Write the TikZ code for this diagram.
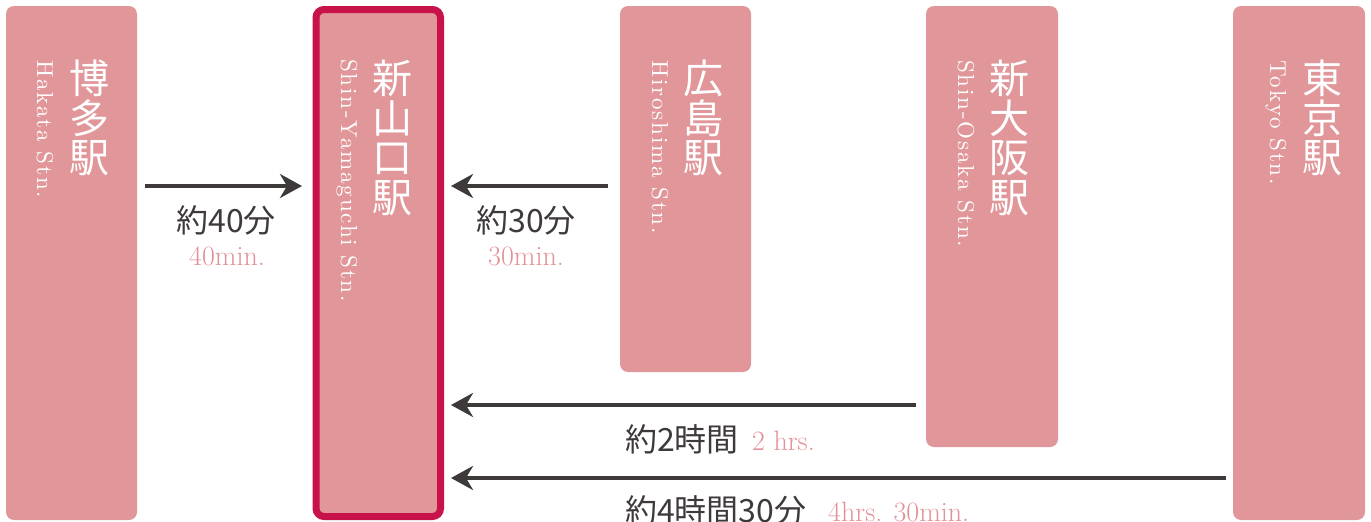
\documentclass[tikz,border=0pt]{standalone}
\usepackage{fontspec}
\usepackage{tikz}
\usetikzlibrary{arrows.meta}
\newfontfamily\jpfont{Noto Sans CJK JP}
\newfontfamily\stnfont[LetterSpace=8]{lmroman10-regular.otf}
\definecolor{stnPink}{RGB}{225,151,154}
\definecolor{stnCrimson}{RGB}{200,18,74}
\definecolor{arrGray}{RGB}{62,58,57}
\definecolor{minPink}{RGB}{226,145,150}
\tikzstyle{stnBox} = [fill=stnPink, rounded corners=8pt, inner sep=0pt, outer sep=0pt,
   anchor=north west, minimum width=131pt]
\tikzstyle{mainBox} = [stnBox, draw=stnCrimson, line width=7pt]
\tikzstyle{jpName} = [text=white, font=\jpfont\fontsize{40}{39.5}\selectfont,
   align=center, anchor=north, inner sep=0pt]
\tikzstyle{enName} = [text=white, font=\stnfont\fontsize{23}{23}\selectfont,
   rotate=-90, anchor=base west, inner sep=0pt]
\tikzstyle{timeArrow} = [-{Stealth[length=22pt,width=24pt,inset=7pt]},
   line width=4pt, draw=arrGray]
\tikzstyle{timeJp} = [text=arrGray, font=\jpfont\fontsize{32}{32}\selectfont,
   anchor=base, inner sep=0pt]
\tikzstyle{timeEn} = [text=minPink, font=\fontsize{28}{28}\selectfont,
   anchor=base, inner sep=0pt]

\begin{document}
\begin{tikzpicture}[x=1pt, y=-1pt]
	\useasboundingbox (0,0) rectangle (1371,522);

	% stations
	\node[stnBox, minimum height=514pt] (hakata) at (6,6) {};
	\node[mainBox, minimum width=124.5pt, minimum height=507pt] (shinyama) at (316,9.5) {};
	\node[stnBox, minimum height=366pt] (hiroshima) at (620,6) {};
	\node[stnBox, minimum width=132pt, minimum height=441pt] (osaka) at (926,6) {};
	\node[stnBox, minimum width=132pt, minimum height=514pt] (tokyo) at (1233,6) {};

	% station names
	\node[jpName] (hakataJp) at (89,60) {博\\多\\駅};
	\node[enName] (hakataEn) at (37,60) {Hakata Stn.};
	\node[jpName] (shinyamaJp) at (392,60) {新\\山\\口\\駅};
	\node[enName] (shinyamaEn) at (341,59) {Shin-Yamaguchi Stn.};
	\node[jpName] (hiroshimaJp) at (703,60) {広\\島\\駅};
	\node[enName] (hiroshimaEn) at (652,60) {Hiroshima Stn.};
	\node[jpName] (osakaJp) at (1009,60) {新\\大\\阪\\駅};
	\node[enName] (osakaEn) at (958,60) {Shin-Osaka Stn.};
	\node[jpName] (tokyoJp) at (1322,60) {東\\京\\駅};
	\node[enName] (tokyoEn) at (1270,60) {Tokyo Stn.};

	% arrows
	\coordinate (lvlA) at (0,186);
	\coordinate (lvlC) at (0,405);
	\coordinate (lvlD) at (0,478);
	\draw[timeArrow, shorten <=8pt, shorten >=14pt] (hakata.east |- lvlA) -- (shinyama.west |- lvlA);
	\draw[timeArrow, shorten <=12pt, shorten >=10.5pt] (hiroshima.west |- lvlA) -- (shinyama.east |- lvlA);
	\draw[timeArrow, shorten <=10pt, shorten >=10.5pt] (osaka.west |- lvlC) -- (shinyama.east |- lvlC);
	\draw[timeArrow, shorten <=7pt, shorten >=10.5pt] (tokyo.west |- lvlD) -- (shinyama.east |- lvlD);

	% travel times
	\node[timeJp] (hakataTime) at (226,232) {約40分};
	\node[timeEn] (hakataMin) at (227,265) {40min.};
	\node[timeJp] (hiroshimaTime) at (526,232) {約30分};
	\node[timeEn] (hiroshimaMin) at (526,265) {30min.};
	\node[timeJp, anchor=base west] (osakaTime) at (625,451) {約2時間};
	\node[timeEn, anchor=base west] (osakaMin) at (752,450) {2 hrs.};
	\node[timeJp, anchor=base west] (tokyoTime) at (625,522) {約4時間30分};
	\node[timeEn, anchor=base west] (tokyoMin) at (828,521) {4hrs. 30min.};
\end{tikzpicture}
\end{document}
